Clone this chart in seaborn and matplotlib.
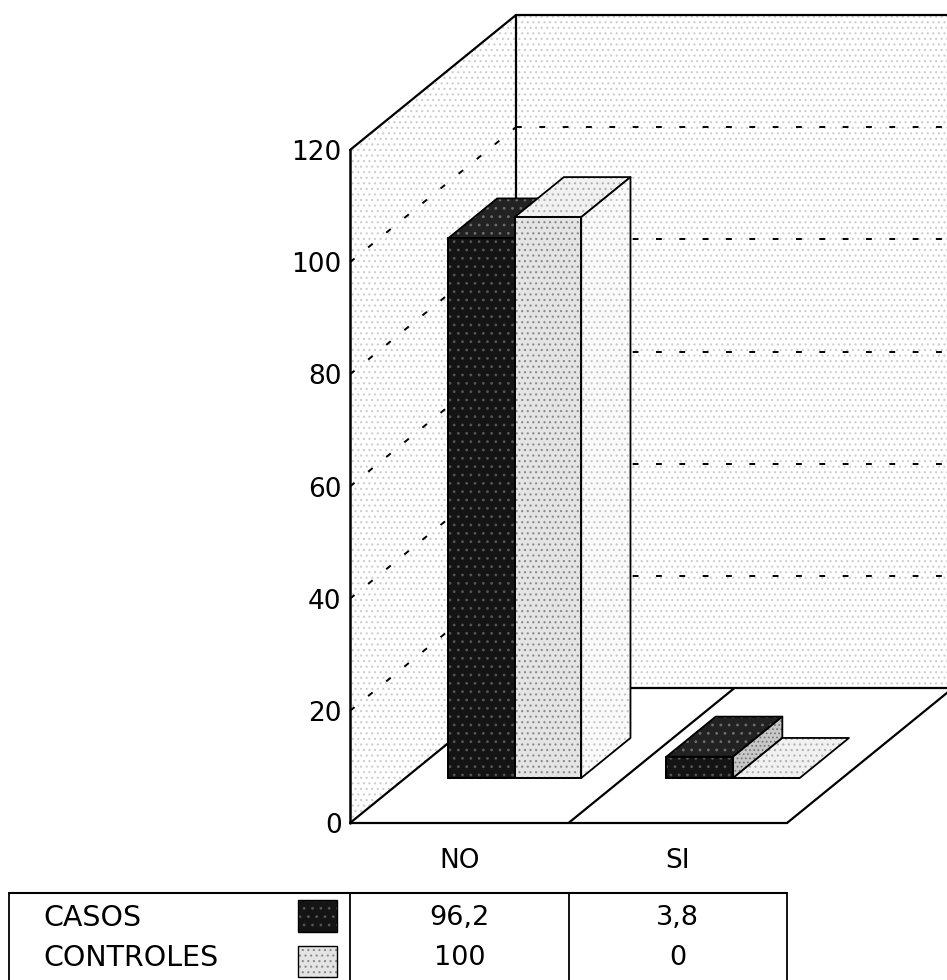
import matplotlib
matplotlib.use("Agg")
import matplotlib.pyplot as plt
from matplotlib.patches import Polygon, Rectangle
import pandas as pd
import seaborn as sns

# ---- data -------------------------------------------------------------
categorias = ["NO", "SI"]
grupos = ["CASOS", "CONTROLES"]
casos = [96.2, 3.8]
controles = [100, 0]
yticks = [0, 20, 40, 60, 80, 100, 120]

df = pd.DataFrame({
    "respuesta": categorias * 2,
    "grupo": [grupos[0]] * len(categorias) + [grupos[1]] * len(categorias),
    "pct": casos + controles,
})

def fmt(v):
    return f"{v:g}".replace(".", ",")

# ---- styling ----------------------------------------------------------
sns.set_theme(style="white")
plt.rcParams["font.family"] = ["DejaVu Sans"]
plt.rcParams["hatch.linewidth"] = 0.8

W, H, DPI = 947, 980, 100
fig = plt.figure(figsize=(W / DPI, H / DPI), dpi=DPI)
fig.patch.set_facecolor("white")

# front plane of the box (pixel frame of the axes)
X0, X1 = 350, 787
Y0, Y1 = 823, 150
ax = fig.add_axes([X0 / W, 1 - Y0 / H, (X1 - X0) / W, (Y0 - Y1) / H])
ax.set_xlim(-0.5, 1.5)
ax.set_ylim(0, 120)

# oblique depth vector, converted into data units
DEPTH_PX = (166, 135)
DX = DEPTH_PX[0] * 2.0 / (X1 - X0)
DY = DEPTH_PX[1] * 120.0 / (Y0 - Y1)
D0, D1 = 1 / 3, 0.63          # front and back of the bars


def P(x, y, d):
    return (x + d * DX, y + d * DY)


def face(pts, fc, hatch=None, hc=None, z=1.0, edge=True, lw=1.3):
    ax.add_patch(Polygon(pts, closed=True, facecolor=fc, edgecolor=hc or fc,
                         lw=0, hatch=hatch, zorder=z, clip_on=False))
    if edge:
        ax.add_patch(Polygon(pts, closed=True, facecolor="none", edgecolor="black",
                             lw=lw, zorder=z + 0.001, clip_on=False, joinstyle="round"))


def line(p, q, z=1.5, **kw):
    ax.plot([p[0], q[0]], [p[1], q[1]], color="black", zorder=z, clip_on=False,
            solid_capstyle="round", **kw)


xa, xb = -0.5, 1.5
top = yticks[-1]
n_cat = len(categorias)

# back wall, left wall, floor
face([P(xa, 0, 1), P(xb, 0, 1), P(xb, top, 1), P(xa, top, 1)],
     "white", hatch="...", hc="#cdcdcd", z=0.5, edge=False)
face([P(xa, 0, 0), P(xa, top, 0), P(xa, top, 1), P(xa, 0, 1)],
     "white", hatch="...", hc="#cdcdcd", z=0.5, edge=False)
face([P(xa, 0, 0), P(xb, 0, 0), P(xb, 0, 1), P(xa, 0, 1)],
     "white", z=0.6, edge=False)

# dotted gridlines on the walls
for v in yticks[1:-1]:
    line(P(xa, v, 1), P(xb, v, 1), z=0.8, lw=1.4, linestyle=(0, (3, 9)))
    line(P(xa, v, 0), P(xa, v, 1), z=0.8, lw=1.4, linestyle=(0, (3, 9)))

# box edges
line(P(xa, 0, 0), P(xa, top, 0), lw=1.8)
line(P(xa, top, 0), P(xa, top, 1), lw=1.6)
line(P(xa, top, 1), P(xb, top, 1), lw=1.6)
line(P(xa, 0, 1), P(xa, top, 1), lw=1.6)
line(P(xa, 0, 0), P(xb, 0, 0), lw=1.6)
line(P(xa, 0, 1), P(xb, 0, 1), lw=1.6)
line(P(xb, 0, 0), P(xb, 0, 1), lw=1.6)
line(P(xa, 0, 0), P(xa, 0, 1), lw=1.6)
for k in range(1, n_cat):
    line(P(xa + k, 0, 0), P(xa + k, 0, 1), lw=1.6)

# ---- bars (front faces from seaborn) -----------------------------------
front_fc = {"CASOS": "#141414", "CONTROLES": "#e4e4e4"}
n_before = len(ax.patches)
sns.barplot(data=df, x="respuesta", y="pct", hue="grupo", order=categorias,
            hue_order=grupos, palette=[front_fc[g] for g in grupos],
            width=0.61, saturation=1, errorbar=None, legend=False,
            edgecolor="black", linewidth=1.3, ax=ax)
bar_patches = list(ax.patches[n_before:])

styles = {
    "CASOS": dict(front=("#141414", "..", "#555555"),
                  top=("#222222", "..", "#6e6e6e"),
                  side=("#c8c8c8", "....", "#7a7a7a")),
    "CONTROLES": dict(front=("#e4e4e4", "...", "#8a8a8a"),
                      top=("#f1f1f1", "...", "#b0b0b0"),
                      side=("#fafafa", "...", "#c6c6c6")),
}

# seaborn adds the bars hue by hue; draw them left to right
tagged = [(p, grupos[k // n_cat]) for k, p in enumerate(bar_patches)]
tagged.sort(key=lambda t: t[0].get_x())
for i, (p, grupo) in enumerate(tagged):
    st = styles[grupo]
    x0, w, h = p.get_x(), p.get_width(), p.get_height()
    x1 = x0 + w
    z = 3 + i * 0.1
    face([P(x0, h, D0), P(x1, h, D0), P(x1, h, D1), P(x0, h, D1)],
         st["top"][0], st["top"][1], st["top"][2], z=z)
    if h > 0:
        face([P(x1, 0, D0), P(x1, h, D0), P(x1, h, D1), P(x1, 0, D1)],
             st["side"][0], st["side"][1], st["side"][2], z=z + 0.01)
    # move the seaborn bar onto the front plane of the bars
    p.set_x(x0 + D0 * DX)
    p.set_y(D0 * DY)
    p.set_clip_on(False)
    p.set_zorder(z + 0.03)
    if h > 0:
        fc, ht, hc = st["front"]
        ax.add_patch(Rectangle((p.get_x(), p.get_y()), w, h, facecolor="none",
                               edgecolor=hc, lw=0, hatch=ht, zorder=z + 0.035,
                               clip_on=False))
        ax.add_patch(Rectangle((p.get_x(), p.get_y()), w, h, facecolor="none",
                               edgecolor="black", lw=1.3, zorder=z + 0.04,
                               clip_on=False))

# ---- axes text ---------------------------------------------------------
for s in ax.spines.values():
    s.set_visible(False)
ax.set_xlim(-0.5, 1.5)
ax.set_ylim(0, 120)
ax.set_yticks(yticks)
ax.set_yticklabels([str(t) for t in yticks])
ax.set_xticks(range(n_cat))
ax.set_xticklabels(categorias)
ax.tick_params(axis="y", length=0, pad=6, labelsize=19, labelcolor="black")
ax.tick_params(axis="x", length=0, pad=18, labelsize=19, labelcolor="black")
ax.set_xlabel("")
ax.set_ylabel("")
ax.grid(False)

# ---- data table --------------------------------------------------------
TL, TT, TB = 9, 893, 982
tab_left = xa - (X0 - TL) * 2.0 / (X1 - X0)
axt = fig.add_axes([TL / W, 1 - TB / H, (X1 - TL) / W, (TB - TT) / H])
axt.set_xlim(tab_left, xb)
axt.set_ylim(0, 1)
axt.axis("off")

axt.plot([tab_left, xb], [1, 1], color="black", lw=1.5, clip_on=False)
for xv in [tab_left, xa] + [xa + k for k in range(1, n_cat + 1)]:
    axt.plot([xv, xv], [0, 1], color="black", lw=1.3, clip_on=False)

row_y = [0.72, 0.27]
sw_x, sw_w = -0.738, 0.179
sw_boxes = [(0.562, 0.359), (0.056, 0.348)]
for r, (g, vals) in enumerate(zip(grupos, [casos, controles])):
    axt.text(-1.905, row_y[r], g, ha="left", va="center", fontsize=20.5,
             color="black")
    fc, ht, hc = styles[g]["front"]
    y0s, hs = sw_boxes[r]
    axt.add_patch(Rectangle((sw_x, y0s), sw_w, hs, facecolor=fc, edgecolor=hc,
                            lw=0, hatch=ht, clip_on=False))
    axt.add_patch(Rectangle((sw_x, y0s), sw_w, hs, facecolor="none",
                            edgecolor="black", lw=1.0, clip_on=False))
    for c, v in enumerate(vals):
        axt.text(c, row_y[r], fmt(v), ha="center", va="center", fontsize=19.5,
                 color="black")

fig.savefig("out.png", dpi=DPI, facecolor="white")
